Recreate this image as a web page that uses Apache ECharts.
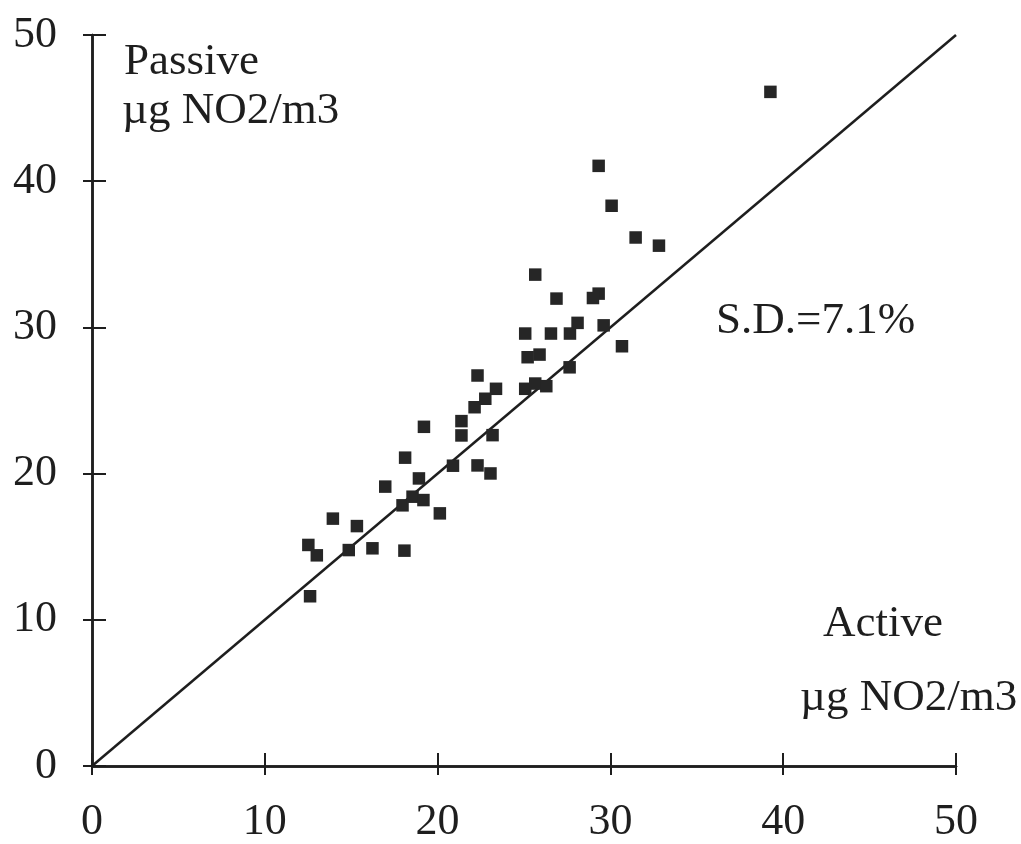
<!DOCTYPE html>
<html>
<head>
<meta charset="utf-8">
<script src="https://cdn.jsdelivr.net/npm/echarts@6/dist/echarts.min.js"></script>
<style>html,body{margin:0;padding:0;background:#fff}#c{width:1021px;height:844px}</style>
</head>
<body>
<div id="c"></div>
<script>
const xTicks = [0, 10, 20, 30, 40, 50];
const yTicks = [0, 10, 20, 30, 40, 50];
const activeX = [12.62,12.52,13.01,13.94,14.86,15.33,16.23,16.97,18.08,18.12,17.97,18.55,18.92,19.21,19.18,20.13,20.89,21.38,21.38,22.31,23.06,23.18,22.14,22.76,23.38,22.31,25.07,25.65,26.29,25.07,26.56,27.66,25.21,25.90,27.64,25.65,26.88,29.32,28.99,28.10,29.61,30.67,29.32,30.07,31.46,32.81,39.26];
const passiveY = [11.61,15.12,14.41,16.92,14.77,16.41,14.89,19.11,14.73,21.09,17.83,18.42,19.67,23.20,18.19,17.28,20.54,23.59,22.61,20.56,20.01,22.63,24.54,25.12,25.80,26.71,25.80,26.16,25.98,29.58,29.58,29.58,27.96,28.14,27.27,33.61,31.97,32.31,32.01,30.31,30.14,28.71,41.05,38.32,36.15,35.59,46.11];
const refLine = [[0, 0], [50, 50]];

const points = activeX.map((x, i) => [x, passiveY[i]]);
const ink = '#1e1e1e';
const font = 'Liberation Serif';
const annFont = '45px "Liberation Serif"';

const chart = echarts.init(document.getElementById('c'));
const axisCommon = {
  type: 'value', min: 0, max: 50, interval: 10,
  splitLine: { show: false },
  axisLine: { show: true, lineStyle: { color: ink, width: 2.5 } }
};
chart.setOption({
  backgroundColor: '#fff',
  animation: false,
  grid: { left: 92, right: 65, top: 35, bottom: 77 },
  xAxis: [
    Object.assign({}, axisCommon, {
      position: 'bottom',
      axisTick: { show: true, length: 9, lineStyle: { color: ink, width: 2 } },
      axisLabel: { color: ink, fontFamily: font, fontSize: 44, margin: 34,
        formatter: v => xTicks.includes(v) ? String(v) : '' }
    }),
    Object.assign({}, axisCommon, {
      position: 'bottom',
      axisTick: { show: true, inside: true, length: 13, lineStyle: { color: ink, width: 2 } },
      axisLabel: { show: false }
    })
  ],
  yAxis: [
    Object.assign({}, axisCommon, {
      position: 'left',
      axisTick: { show: true, length: 9, lineStyle: { color: ink, width: 2 } },
      axisLabel: { color: ink, fontFamily: font, fontSize: 44, margin: 35,
        padding: [0, 0, 10, 0],
        formatter: v => yTicks.includes(v) ? String(v) : '' }
    }),
    Object.assign({}, axisCommon, {
      position: 'left',
      axisTick: { show: true, inside: true, length: 14, lineStyle: { color: ink, width: 2 } },
      axisLabel: { show: false }
    })
  ],
  series: [
    {
      type: 'line', data: refLine, xAxisIndex: 0, yAxisIndex: 0,
      symbol: 'none', lineStyle: { color: ink, width: 2.5 }, z: 2
    },
    {
      type: 'scatter', data: points, xAxisIndex: 0, yAxisIndex: 0,
      symbol: 'rect', symbolSize: 12.5,
      itemStyle: { color: '#262626', opacity: 1 }, z: 3
    }
  ],
  graphic: [
    { type: 'text', left: 124, top: 40, style: { text: 'Passive', font: annFont, fill: ink } },
    { type: 'text', left: 122, top: 89, style: { text: 'µg NO2/m3', font: annFont, fill: ink } },
    { type: 'text', left: 716, top: 299, style: { text: 'S.D.=7.1%', font: annFont, fill: ink } },
    { type: 'text', left: 823, top: 602, style: { text: 'Active', font: annFont, fill: ink } },
    { type: 'text', left: 800, top: 676, style: { text: 'µg NO2/m3', font: annFont, fill: ink } }
  ]
});
</script>
</body>
</html>
